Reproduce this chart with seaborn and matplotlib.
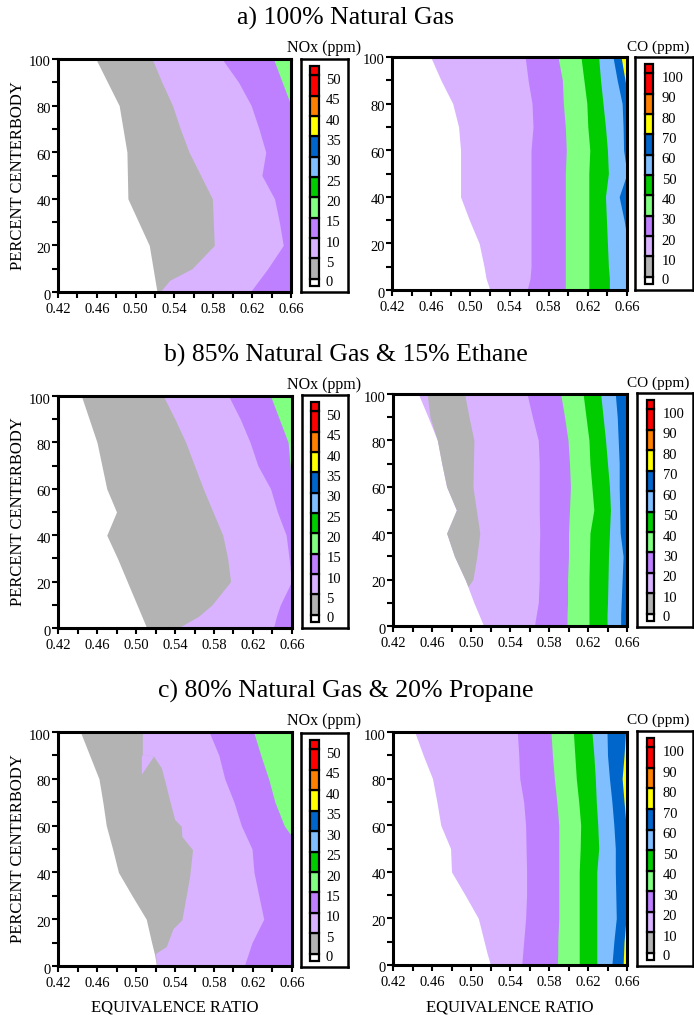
import matplotlib
matplotlib.use("Agg")
import matplotlib.pyplot as plt
import seaborn as sns
import numpy as np
from matplotlib.ticker import FixedLocator
from matplotlib.transforms import ScaledTranslation

sns.set_style("ticks", {"axes.edgecolor": "black", "xtick.color": "black",
                        "ytick.color": "black", "text.color": "black",
                        "axes.labelcolor": "black"})
plt.rcParams['font.family'] = ['Liberation Serif', 'DejaVu Serif']

# ---------------- data ----------------
TITLES = ["a) 100% Natural Gas", "b) 85% Natural Gas & 15% Ethane",
          "c) 80% Natural Gas & 20% Propane"]
XTICKS = [0.42, 0.46, 0.50, 0.54, 0.58, 0.62, 0.66]
XTICK_LABELS = ["0.42", "0.46", "0.50", "0.54", "0.58", "0.62", "0.66"]
XMINOR = [0.44, 0.48, 0.52, 0.56, 0.60, 0.64]
YTICKS = [0, 20, 40, 60, 80, 100]
YTICK_LABELS = ["0", "20", "40", "60", "80", "100"]
YMINOR = [10, 30, 50, 70, 90]
NOX_LABELS = ["0", "5", "10", "15", "20", "25", "30", "35", "40", "45", "50"]
CO_LABELS = ["0", "10", "20", "30", "40", "50", "60", "70", "80", "90", "100"]
# white, gray, lavender, purple, light green, green, light blue, blue, yellow, orange, red
BAND_COLORS = ["#FFFFFF", "#B3B3B3", "#D9B3FF", "#BF80FF", "#80FF80", "#00CC00",
               "#80BFFF", "#0066CC", "#FFFF00", "#FF8000", "#FF0000"]

# percent centerbody levels at which contour positions were read
Y = [0, 5, 10, 20, 30, 40, 50, 60, 70, 80, 90, 100]

# equivalence ratio where each contour level is crossed (a: 100% NG)
nox_a_5 = [0.522, 0.520, 0.518, 0.514, 0.503, 0.492, 0.4915, 0.491, 0.487, 0.483, 0.471, 0.459]
nox_a_10 = [0.525, 0.535, 0.558, 0.581, 0.580, 0.579, 0.567, 0.555, 0.546, 0.538, 0.527, 0.517]
nox_a_15 = [0.618, 0.627, 0.636, 0.652, 0.648, 0.643, 0.630, 0.634, 0.627, 0.619, 0.606, 0.589]
nox_a_20 = [0.70, 0.70, 0.70, 0.70, 0.70, 0.70, 0.70, 0.70, 0.70, 0.660, 0.651, 0.642]

co_a_20 = [0.520, 0.516, 0.514, 0.509, 0.499, 0.490, 0.490, 0.490, 0.488, 0.482, 0.470, 0.4595]
co_a_30 = [0.558, 0.561, 0.562, 0.562, 0.562, 0.562, 0.562, 0.562, 0.564, 0.563, 0.559, 0.556]
co_a_40 = [0.597, 0.597, 0.597, 0.597, 0.597, 0.597, 0.597, 0.598, 0.597, 0.595, 0.594, 0.5895]
co_a_50 = [0.621, 0.621, 0.621, 0.621, 0.621, 0.621, 0.621, 0.622, 0.620, 0.619, 0.616, 0.613]
co_a_60 = [0.642, 0.642, 0.641, 0.640, 0.639, 0.638, 0.641, 0.640, 0.638, 0.6355, 0.633, 0.631]
co_a_70 = [0.667, 0.665, 0.663, 0.661, 0.657, 0.652, 0.660, 0.6565, 0.656, 0.655, 0.650, 0.6457]
co_a_80 = [0.70, 0.70, 0.70, 0.70, 0.70, 0.70, 0.70, 0.70, 0.70, 0.662, 0.658, 0.654]

# b: 85% NG & 15% ethane
nox_b_5 = [0.511, 0.506, 0.501, 0.491, 0.481, 0.470, 0.480, 0.470, 0.465, 0.460, 0.452, 0.444]
nox_b_10 = [0.543, 0.564, 0.578, 0.597, 0.594, 0.589, 0.579, 0.569, 0.560, 0.551, 0.540, 0.528]
nox_b_15 = [0.641, 0.644, 0.648, 0.6595, 0.657, 0.654, 0.645, 0.638, 0.625, 0.617, 0.607, 0.595]
nox_b_20 = [0.70, 0.70, 0.70, 0.70, 0.70, 0.70, 0.70, 0.660, 0.658, 0.656, 0.647, 0.638]

co_b_20 = [0.513, 0.508, 0.503, 0.494, 0.483, 0.475, 0.485, 0.475, 0.470, 0.4655, 0.456, 0.446]
co_b_gray_y = [17, 20, 30, 40, 50, 60, 70, 80, 90, 100]
co_b_gray_left = [0.497, 0.494, 0.483, 0.475, 0.485, 0.475, 0.470, 0.4655, 0.458, 0.455]
co_b_gray_right = [0.497, 0.502, 0.506, 0.509, 0.5055, 0.502, 0.5025, 0.503, 0.498, 0.4935]
co_b_30 = [0.565, 0.567, 0.569, 0.570, 0.570, 0.5705, 0.570, 0.570, 0.570, 0.569, 0.563, 0.5575]
co_b_40 = [0.5985, 0.5985, 0.599, 0.599, 0.600, 0.600, 0.601, 0.602, 0.601, 0.5995, 0.596, 0.592]
co_b_50 = [0.621, 0.621, 0.621, 0.621, 0.6215, 0.622, 0.626, 0.624, 0.622, 0.621, 0.618, 0.615]
co_b_60 = [0.6395, 0.6395, 0.640, 0.6405, 0.641, 0.642, 0.643, 0.642, 0.640, 0.638, 0.6355, 0.633]
co_b_70 = [0.6535, 0.6535, 0.654, 0.655, 0.656, 0.653, 0.6525, 0.652, 0.652, 0.651, 0.650, 0.648]
co_b_80 = [0.70, 0.70, 0.70, 0.70, 0.70, 0.70, 0.70, 0.665, 0.6595, 0.659, 0.661, 0.70]

# c: 80% NG & 20% propane
nox_c_5 = [0.521, 0.519, 0.516, 0.5105, 0.496, 0.482, 0.476, 0.4695, 0.466, 0.462, 0.4525, 0.443]
nox_c_10_y = [0, 5.4, 8.3, 16, 19.7, 30, 38.3, 49.7, 55.4, 59.7, 62.6, 70, 80, 84.7, 89.7, 90.5, 100]
nox_c_10 = [0.521, 0.520, 0.531, 0.538, 0.547, 0.5515, 0.555, 0.558, 0.547, 0.5465, 0.5397,
            0.535, 0.529, 0.526, 0.518, 0.5065, 0.5065]
nox_c_notch_y = [82, 89.7, 90.5]
nox_c_notch_left = [0.5055, 0.5055, 0.5065]
nox_c_notch_right = [0.5055, 0.518, 0.5065]
nox_c_15 = [0.611, 0.615, 0.619, 0.631, 0.626, 0.621, 0.619, 0.608, 0.6005, 0.591, 0.585, 0.575]
nox_c_20 = [0.70, 0.70, 0.70, 0.70, 0.70, 0.70, 0.669, 0.652, 0.6425, 0.636, 0.628, 0.6207]

co_c_20 = [0.520, 0.5165, 0.5135, 0.5075, 0.494, 0.480, 0.479, 0.469, 0.465, 0.4605, 0.451, 0.4423]
co_c_30 = [0.552, 0.553, 0.554, 0.556, 0.557, 0.557, 0.5565, 0.556, 0.554, 0.550, 0.549, 0.5475]
co_c_40 = [0.5885, 0.589, 0.589, 0.590, 0.590, 0.590, 0.590, 0.590, 0.588, 0.5855, 0.5835, 0.582]
co_c_50 = [0.611, 0.611, 0.611, 0.611, 0.611, 0.611, 0.612, 0.6125, 0.6105, 0.608, 0.6065, 0.605]
co_c_60 = [0.629, 0.629, 0.629, 0.629, 0.629, 0.629, 0.631, 0.630, 0.6285, 0.6275, 0.626, 0.624]
co_c_70 = [0.6445, 0.6455, 0.6465, 0.649, 0.6485, 0.648, 0.648, 0.6465, 0.6445, 0.642, 0.640, 0.6395]
co_c_80 = [0.656, 0.6565, 0.657, 0.659, 0.662, 0.665, 0.665, 0.659, 0.657, 0.655, 0.657, 0.6585]

# layers: (colour index, y values, contour positions) ; islands: (colour, y, left, right)
PANELS = [
    # row a
    ([(1, Y, nox_a_5), (2, Y, nox_a_10), (3, Y, nox_a_15), (4, Y, nox_a_20)], []),
    ([(2, Y, co_a_20), (3, Y, co_a_30), (4, Y, co_a_40), (5, Y, co_a_50),
      (6, Y, co_a_60), (7, Y, co_a_70), (8, Y, co_a_80)], []),
    # row b
    ([(1, Y, nox_b_5), (2, Y, nox_b_10), (3, Y, nox_b_15), (4, Y, nox_b_20)], []),
    ([(2, Y, co_b_20), (3, Y, co_b_30), (4, Y, co_b_40), (5, Y, co_b_50),
      (6, Y, co_b_60), (7, Y, co_b_70), (8, Y, co_b_80)],
     [(1, co_b_gray_y, co_b_gray_left, co_b_gray_right)]),
    # row c
    ([(1, Y, nox_c_5), (2, nox_c_10_y, nox_c_10), (3, Y, nox_c_15), (4, Y, nox_c_20)],
     [(2, nox_c_notch_y, nox_c_notch_left, nox_c_notch_right)]),
    ([(2, Y, co_c_20), (3, Y, co_c_30), (4, Y, co_c_40), (5, Y, co_c_50),
      (6, Y, co_c_60), (7, Y, co_c_70), (8, Y, co_c_80)], []),
]

# ---------------- layout ----------------
W, H = 694, 1015
fig = plt.figure(figsize=(W / 100, H / 100), dpi=100)


def rect(x0, y0, x1, y1):
    return [x0 / W, 1 - y1 / H, (x1 - x0) / W, (y1 - y0) / H]


AX_RECTS = [rect(58, 59, 291, 292), rect(392, 57, 627, 290),
            rect(58, 396, 292, 628), rect(393, 394, 627, 626),
            rect(58, 732, 292, 966), rect(393, 732, 627, 965)]
LEG_RECTS = [rect(301, 59, 348, 292), rect(635, 57, 693, 290),
             rect(302, 395, 348, 628), rect(637, 393, 693, 627),
             rect(301, 733, 348, 967), rect(637, 731, 693, 966)]
TITLE_Y = [18, 355, 691]
NOX_LAB_Y = [48, 385, 721]
CO_LAB_Y = [47, 383, 720]
FILL_RIGHT = 0.70

pal = sns.color_palette(BAND_COLORS)


def style_axes(ax):
    ax.set_xlim(0.42, 0.66)
    ax.set_ylim(0, 100)
    ax.set_xticks(XTICKS)
    ax.set_xticklabels(XTICK_LABELS)
    ax.set_yticks(YTICKS)
    ax.set_yticklabels(YTICK_LABELS)
    ax.xaxis.set_minor_locator(FixedLocator(XMINOR))
    ax.yaxis.set_minor_locator(FixedLocator(YMINOR))
    ax.tick_params(which='both', direction='out', width=1.5, length=4,
                   labelsize=10.5, color='black')
    ax.tick_params(axis='x', pad=4)
    ax.tick_params(axis='y', pad=1)
    shift = ScaledTranslation(0, -0.025, fig.dpi_scale_trans)
    for lab in ax.get_yticklabels():
        lab.set_transform(lab.get_transform() + shift)
    for s in ax.spines.values():
        s.set_visible(True)
        s.set_linewidth(2.2)
        s.set_color('black')


def draw_legend(r, labels, cx0, cx1, lx):
    lax = fig.add_axes(r)
    heights = [0.35] + [1.0] * 10 + [0.45]
    bottoms = np.concatenate([[0], np.cumsum(heights)[:-1]])
    colors = BAND_COLORS + [BAND_COLORS[-1]]
    lax.bar([(cx0 + cx1) / 2] * len(heights), heights, bottom=bottoms,
            width=cx1 - cx0, color=colors, edgecolor='black', linewidth=1.6)
    for i, lab in enumerate(labels):
        yy = bottoms[i] + (heights[i] * 0.5 if i == 0 else heights[i] * 0.75)
        lax.text(lx, yy, lab, ha='left', va='center', fontsize=10.5)
    lax.set_xlim(0, 1)
    lax.set_ylim(-0.3, sum(heights) + 0.35)
    lax.set_xticks([])
    lax.set_yticks([])
    for s in lax.spines.values():
        s.set_visible(True)
        s.set_linewidth(1.8)
        s.set_color('black')


for i, (layers, islands) in enumerate(PANELS):
    ax = fig.add_axes(AX_RECTS[i])
    for ci, ys, xs in layers:
        ax.fill_betweenx(ys, xs, FILL_RIGHT, color=pal[ci], linewidth=0)
    for ci, ys, left, right in islands:
        ax.fill_betweenx(ys, left, right, color=pal[ci], linewidth=0)
    style_axes(ax)
    if i % 2 == 0:
        draw_legend(LEG_RECTS[i], NOX_LABELS, 0.19, 0.38, 0.53)
    else:
        draw_legend(LEG_RECTS[i], CO_LABELS, 0.17, 0.31, 0.46)

for r in range(3):
    fig.text(0.498, 1 - TITLE_Y[r] / H, TITLES[r], ha='center', va='center', fontsize=18.5)
    fig.text(287 / W, 1 - NOX_LAB_Y[r] / H, "NOx (ppm)", ha='left', va='center', fontsize=11.5)
    fig.text(627 / W, 1 - CO_LAB_Y[r] / H, "CO (ppm)", ha='left', va='center', fontsize=11)
    yc = (AX_RECTS[2 * r][1] + AX_RECTS[2 * r][3] / 2)
    fig.text(18 / W, yc, "PERCENT CENTERBODY", rotation=90, ha='center', va='center', fontsize=12)

fig.text(175 / W, 1 - 1008 / H, "EQUIVALENCE RATIO", ha='center', va='center', fontsize=12)
fig.text(510 / W, 1 - 1008 / H, "EQUIVALENCE RATIO", ha='center', va='center', fontsize=12)

fig.savefig("out.png", dpi=100)
